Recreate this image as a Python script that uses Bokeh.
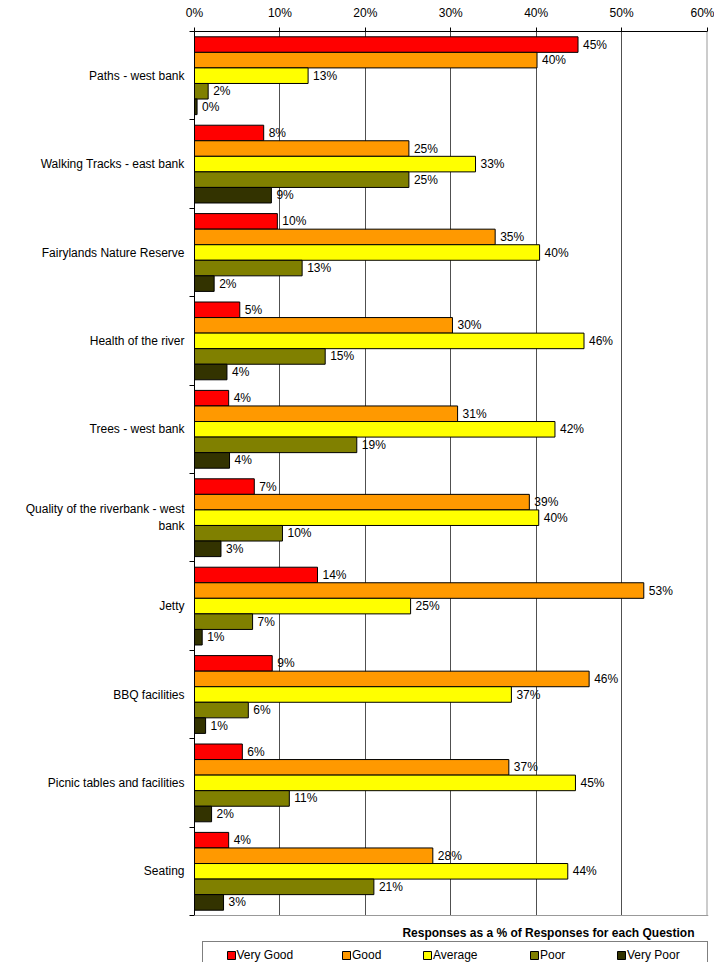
from bokeh.plotting import figure
from bokeh.models import (Range1d, FixedTicker, PrintfTickFormatter, Legend,
                          LegendItem, Label, ColumnDataSource, Span,
                          BoxAnnotation)
from bokeh.core.properties import value
from bokeh.embed import file_html
from bokeh.resources import INLINE

# ---------------- data ----------------
categories = [
    "Paths - west bank",
    "Walking Tracks - east bank",
    "Fairylands Nature Reserve",
    "Health of the river",
    "Trees - west bank",
    "Quality of the riverbank - west\nbank",
    "Jetty",
    "BBQ facilities",
    "Picnic tables and facilities",
    "Seating",
]
series_names = ["Very Good", "Good", "Average", "Poor", "Very Poor"]
very_good = [44.9, 8.1, 9.7, 5.3, 4.0, 7.0, 14.4, 9.1, 5.6, 4.0]
good      = [40.1, 25.1, 35.2, 30.2, 30.8, 39.2, 52.6, 46.2, 36.8, 27.9]
average   = [13.3, 32.9, 40.4, 45.6, 42.2, 40.3, 25.3, 37.1, 44.6, 43.7]
poor      = [1.6, 25.1, 12.6, 15.3, 19.0, 10.3, 6.8, 6.3, 11.1, 21.0]
very_poor = [0.3, 9.0, 2.3, 3.8, 4.1, 3.1, 0.9, 1.3, 2.0, 3.4]
x_ticks = [0, 10, 20, 30, 40, 50, 60]
axis_title = "Responses as a % of Responses for each Question"

series = [very_good, good, average, poor, very_poor]
colors = ["#FF0000", "#FF9900", "#FFFF00", "#808000", "#333300"]

FONT = "Liberation Sans"
FS = "12px"
n = len(categories)

# ---------------- layout (pixels) ----------------
W, H = 714, 962
B_LEFT, B_TOP = 194, 31
PX_PER_PCT = 8.542                     # 10% = 85.4 px
PLOT_BOTTOM_PX = 915                   # bottom of the category area
X_END = 60 + 1.5 / PX_PER_PCT
frame_right = B_LEFT + X_END * PX_PER_PCT
B_RIGHT = int(round(W - frame_right))
frame_h = H - B_TOP
PX_PER_CAT = (PLOT_BOTTOM_PX - B_TOP) / n
y_start = (n - 0.5) + (H - PLOT_BOTTOM_PX) / PX_PER_CAT

p = figure(width=W, height=H, output_backend="svg", toolbar_location=None,
           x_range=Range1d(0, X_END), y_range=Range1d(y_start, -0.5),
           x_axis_location="above",
           min_border_left=B_LEFT, min_border_right=B_RIGHT,
           min_border_top=B_TOP, min_border_bottom=0)
p.background_fill_color = "white"
p.border_fill_color = "white"
p.outline_line_color = None

bar_h = 0.176
rends = []
for j, (name, vals, col) in enumerate(zip(series_names, series, colors)):
    ys = [i + (j - 2) * bar_h for i in range(n)]
    src = ColumnDataSource(dict(y=ys, right=vals,
                                label=[f"{round(v)}%" for v in vals]))
    r = p.hbar(y="y", right="right", left=0, height=bar_h, source=src,
               fill_color=col, line_color="black", line_width=1)
    p.text(x="right", y="y", text="label", source=src, x_offset=5,
           text_baseline="middle", text_align="left",
           text_font=value(FONT), text_font_size=FS, text_color="black")
    rends.append(r)

# ---------------- axes ----------------
xa = p.xaxis[0]
xa.ticker = FixedTicker(ticks=x_ticks)
xa.formatter = PrintfTickFormatter(format="%d%%")
xa.major_tick_out = 4
xa.major_tick_in = 0
xa.minor_tick_out = 0
xa.minor_tick_in = 0
xa.major_label_standoff = 8
xa.axis_line_color = "black"
xa.major_tick_line_color = "black"
xa.major_label_text_font = FONT
xa.major_label_text_font_size = FS
xa.major_label_text_color = "black"
xa.bounds = (0, 60)

ya = p.yaxis[0]
ya.ticker = FixedTicker(ticks=list(range(n)),
                        minor_ticks=[i - 0.5 for i in range(n + 1)])
ya.major_label_overrides = {i: c for i, c in enumerate(categories)}
ya.major_tick_out = 0
ya.major_tick_in = 0
ya.minor_tick_out = 5
ya.minor_tick_in = 0
ya.minor_tick_line_color = "black"
ya.axis_line_color = "black"
ya.major_label_standoff = 5
ya.major_label_text_font = FONT
ya.major_label_text_font_size = FS
ya.major_label_text_color = "black"
ya.bounds = (-0.5, n - 0.5)

p.xgrid.ticker = FixedTicker(ticks=x_ticks[1:-1])
p.xgrid.grid_line_color = "#505050"
p.ygrid.visible = False

# right edge of plot area (60%)
p.add_layout(Span(location=60, dimension="height", line_color="#999999",
                  line_width=1))
# blank out grid below the category area
p.add_layout(BoxAnnotation(top=n - 0.5, bottom=y_start, left=0, right=X_END,
                           fill_color="white", fill_alpha=1, line_alpha=0))
# bottom edge of plot area
p.add_layout(Span(location=n - 0.5, dimension="width", line_color="#999999",
                  line_width=1))

# ---------------- axis title (below plot) ----------------
p.add_layout(Label(x=(694 - B_LEFT) / PX_PER_PCT,
                   y=(n - 0.5) + (932 - PLOT_BOTTOM_PX) / PX_PER_CAT,
                   text=axis_title, text_font=FONT, text_font_style="bold",
                   text_font_size=FS, text_color="black",
                   text_align="right", text_baseline="middle"))

# ---------------- legend ----------------
dummy = p.hbar(y=[], right=[], height=0.1, fill_alpha=0, line_alpha=0)
box = Legend(items=[LegendItem(label=value(" "), renderers=[dummy])],
             location=(8.3, -5.3), padding=5, margin=0, spacing=0,
             glyph_width=10, glyph_height=14, label_height=14,
             label_width=484, label_standoff=0,
             border_line_color="black", border_line_width=1,
             background_fill_color="white", background_fill_alpha=1,
             label_text_font=FONT, label_text_font_size=FS)
p.add_layout(box)

item_x = [31.5, 147, 228, 335, 422]
for name, r, lx in zip(series_names, rends, item_x):
    leg = Legend(items=[LegendItem(label=value(name), renderers=[r])],
                 location=(lx, 0), padding=0, margin=0, spacing=0,
                 glyph_width=10, glyph_height=10, label_height=10,
                 label_standoff=1, border_line_alpha=0,
                 background_fill_alpha=0,
                 label_text_font=FONT, label_text_font_size=FS,
                 label_text_color="black")
    p.add_layout(leg)

open("out.html", "w").write(file_html(p, INLINE))
